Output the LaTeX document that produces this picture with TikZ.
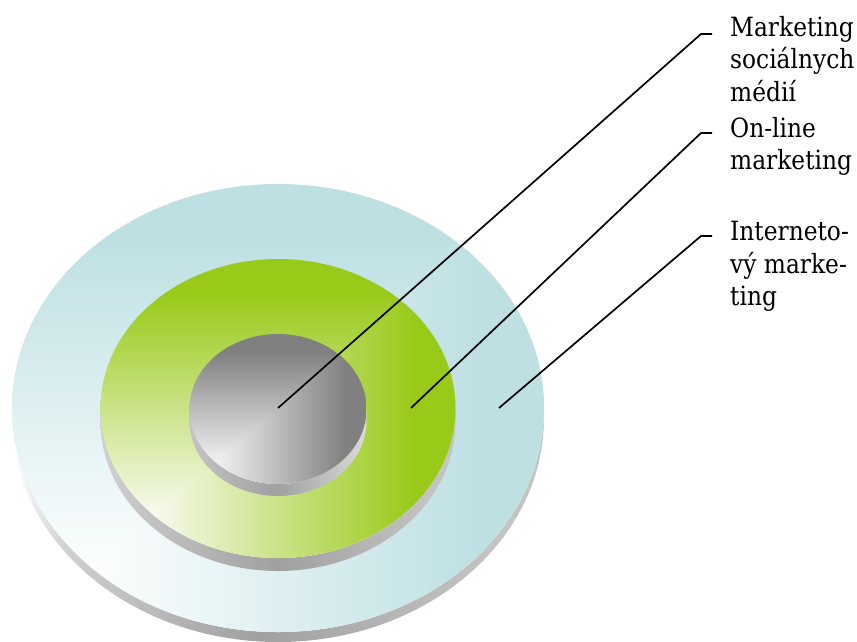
\documentclass[tikz,border=0pt]{standalone}
\usepackage{fontspec}
\newfontfamily\lblfont[FakeStretch=0.88]{DejaVu Serif}
\definecolor{outerblue}{HTML}{BEE0E3}
\definecolor{ringgreen}{HTML}{99CA1A}
\definecolor{coregray}{HTML}{808080}
\definecolor{corelight}{HTML}{F6F6F6}
\definecolor{greenlight}{HTML}{FBFCF6}
\definecolor{sideA}{HTML}{D0D0D0}
\definecolor{sideB}{HTML}{A0A0A0}
\definecolor{sideC}{HTML}{C4C4C4}
\definecolor{sideD}{HTML}{DADADA}
\colorlet{facecol}{outerblue}
\colorlet{lightcol}{white}
\pgfdeclareverticalshading[facecol,lightcol]{facev}{100bp}{color(0bp)=(lightcol); color(31bp)=(lightcol); color(69bp)=(facecol); color(100bp)=(facecol)}
\pgfdeclarehorizontalshading[facecol,lightcol]{faceh}{100bp}{color(0bp)=(lightcol); color(31bp)=(lightcol); color(69bp)=(facecol); color(100bp)=(facecol)}
\pgfdeclarehorizontalshading{outerside}{100bp}{color(0bp)=(white); color(25bp)=(white); color(30bp)=(sideA); color(48bp)=(sideB); color(70bp)=(sideC); color(100bp)=(sideC)}
\pgfdeclarehorizontalshading{greenside}{100bp}{color(0bp)=(sideA); color(25bp)=(sideA); color(50bp)=(sideB); color(72bp)=(sideC); color(100bp)=(sideC)}
\pgfdeclarehorizontalshading{coreside}{100bp}{color(0bp)=(sideC); color(25bp)=(sideC); color(50bp)=(sideB); color(75bp)=(sideD); color(100bp)=(sideD)}
% #1 cx, #2 cy, #3 rx, #4 ry, #5 thickness, #6 face colour, #7 side shading, #8 light colour
\newcommand{\drawdisk}[8]{%
  \shade[shading=#7] (#1-#3,#2) -- (#1-#3,#2+#5)
    arc[start angle=180,end angle=0,x radius=#3,y radius=#4]
    -- (#1+#3,#2)
    arc[start angle=0,end angle=180,x radius=#3,y radius=#4] -- cycle;
  \colorlet{facecol}{#6}\colorlet{lightcol}{#8}%
  \begin{scope}
    \clip (#1,#2) ellipse[x radius=#3,y radius=#4];
    \shade[shading=facev] (#1-#3,#2-#4) rectangle (#1+#3,#2+#4);
    \shade[shading=faceh] (#1-#3,#2+#4) -- (#1+#3,#2+#4) -- (#1+#3,#2-#4) -- cycle;
  \end{scope}}
\begin{document}
\begin{tikzpicture}[x=1pt,y=-1pt,
  lbl/.style={font=\lblfont\fontsize{26.5}{32.5}\selectfont,align=left,anchor=north west,inner sep=0pt},
  leader/.style={draw=black,line width=1.7pt}]
\useasboundingbox (0,0) rectangle (857,641);
\fill[white] (0,0) rectangle (857,641);
% disks
\drawdisk{278}{408}{266}{224}{10}{outerblue}{outerside}{white}
\drawdisk{278}{408.5}{177.5}{149.5}{13}{ringgreen}{greenside}{greenlight}
\drawdisk{278}{409}{88.5}{75}{12}{coregray}{coreside}{corelight}
% leader anchor points
\coordinate (c1) at (278,408);
\coordinate (e1) at (701,34);
\coordinate (h1) at (712,34);
\coordinate (c2) at (411,408);
\coordinate (e2) at (701,133);
\coordinate (h2) at (712,133);
\coordinate (c3) at (499,408);
\coordinate (e3) at (701,236);
\coordinate (h3) at (712,236);
% labels
\node[lbl] (t1) at (730,16) {Marketing\\sociálnych\\médií};
\node[lbl] (t2) at (730,117) {On-line\\marketing};
\node[lbl] (t3) at (730,221) {Interneto-\\vý marke-\\ting};
% leaders
\draw[leader] (c1) -- (e1) -- (h1);
\draw[leader] (c2) -- (e2) -- (h2);
\draw[leader] (c3) -- (e3) -- (h3);
\end{tikzpicture}
\end{document}
